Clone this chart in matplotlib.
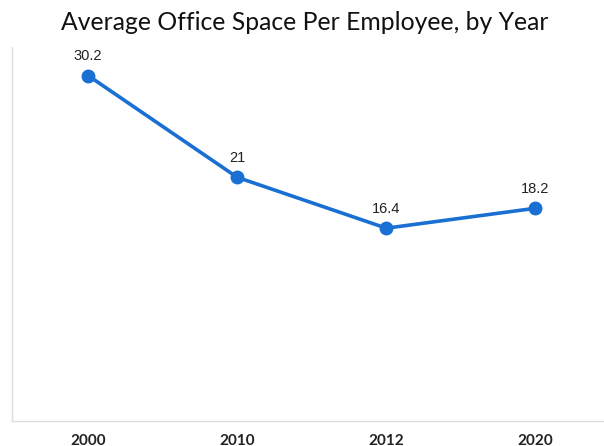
import matplotlib.pyplot as plt

years = ['2000', '2010', '2012', '2020']
space = [30.2, 21, 16.4, 18.2]
value_labels = ['30.2', '21', '16.4', '18.2']

fig = plt.figure(figsize=(6.04, 4.46), dpi=100)
ax = fig.add_axes([0.02, 0.056, 0.98, 0.839])

x = range(len(years))
ax.plot(x, space, color='#1a6fd3', linewidth=2.6, marker='o', markersize=9)

for i, (v, lab) in enumerate(zip(space, value_labels)):
    ax.annotate(lab, (i, v), xytext=(0, 9), textcoords='offset points',
                ha='center', va='bottom', fontsize=10.5,
                family='Liberation Sans', color='#222222')

ax.set_xlim(-0.51, 3.46)
ax.set_ylim(-1.04, 32.8)
ax.set_xticks(list(x))
ax.set_xticklabels(years, family='Lato', fontweight='bold', fontsize=11, color='#222222')
ax.tick_params(axis='x', length=0, pad=9)
ax.set_yticks([])

for s in ['top', 'right']:
    ax.spines[s].set_visible(False)
for s in ['left', 'bottom']:
    ax.spines[s].set_color('#dddddd')
    ax.spines[s].set_linewidth(1)

fig.text(0.505, 0.95, 'Average Office Space Per Employee, by Year',
         ha='center', va='center', family='Lato', fontsize=17.8, color='#111111')

fig.savefig('out.png', dpi=100)
